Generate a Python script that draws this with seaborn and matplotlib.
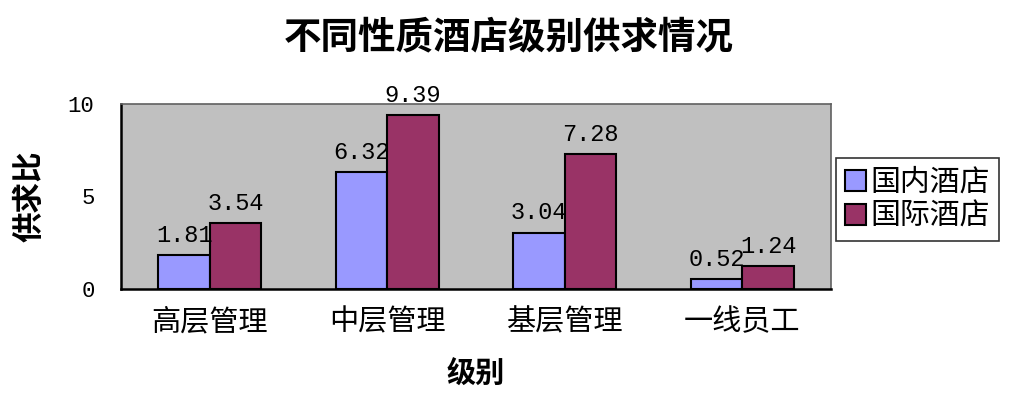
import pandas as pd
import matplotlib
matplotlib.use("Agg")
import matplotlib.pyplot as plt
import seaborn as sns

# chart data
levels = ['高层管理', '中层管理', '基层管理', '一线员工']
domestic = [1.81, 6.32, 3.04, 0.52]
international = [3.54, 9.39, 7.28, 1.24]
series_names = ['国内酒店', '国际酒店']

df = pd.DataFrame({
    '级别': levels * 2,
    '供求比': domestic + international,
    '酒店': [series_names[0]] * 4 + [series_names[1]] * 4,
})

sns.set_style("white")
plt.rcParams['font.family'] = ['Noto Sans CJK SC', 'DejaVu Sans']
plt.rcParams['text.color'] = 'black'
plt.rcParams['axes.labelcolor'] = 'black'
plt.rcParams['xtick.color'] = 'black'
plt.rcParams['ytick.color'] = 'black'

fig = plt.figure(figsize=(10.28, 4.03), dpi=100)
ax = fig.add_axes([0.1177, 0.283, 0.6907, 0.459])

sns.barplot(data=df, x='级别', y='供求比', hue='酒店', order=levels,
            hue_order=series_names, palette=['#9999FF', '#993366'],
            saturation=1, edgecolor='black', linewidth=1.5, width=0.58, ax=ax)

ax.set_facecolor('#C0C0C0')
ax.set_ylim(0, 10)
ax.set_xlim(-0.5, 3.5)
ax.set_yticks([0, 5, 10])
ax.tick_params(axis='y', direction='in', length=7, width=1.5, labelsize=16, pad=19)
ax.set_yticklabels(['0', '5', '10'], family=['Liberation Mono', 'DejaVu Sans Mono'])
ax.tick_params(axis='x', which='major', length=0, labelsize=21, pad=13)
ax.set_xticks([0.5, 1.5, 2.5], minor=True)
ax.tick_params(axis='x', which='minor', direction='in', length=6, width=1.5)

for side in ['left', 'bottom']:
    ax.spines[side].set_color('black')
    ax.spines[side].set_linewidth(1.8)
for side in ['top', 'right']:
    ax.spines[side].set_color('#606060')
    ax.spines[side].set_linewidth(1.2)

# value labels
for container in ax.containers:
    ax.bar_label(container, fmt='%.2f', padding=6, fontsize=17,
                 family=['Liberation Mono', 'DejaVu Sans Mono'])

ax.set_ylabel('供求比', fontsize=22, fontweight='bold', labelpad=16)
ax.set_xlabel('级别', fontsize=21, fontweight='bold', labelpad=16)
fig.text(0.495, 0.908, '不同性质酒店级别供求情况', fontsize=27, fontweight='bold',
         ha='center', va='center')

leg = ax.legend(loc='upper left', bbox_to_anchor=(1.007, 0.708), fontsize=21.5,
                frameon=True, fancybox=False, edgecolor='black',
                handlelength=0.7, handleheight=0.7, handletextpad=0.15,
                borderpad=0.3, labelspacing=0.1, borderaxespad=0)
leg.get_frame().set_linewidth(1.2)
for h in leg.legend_handles:
    h.set_edgecolor('black')

fig.savefig('out.png', dpi=100)
